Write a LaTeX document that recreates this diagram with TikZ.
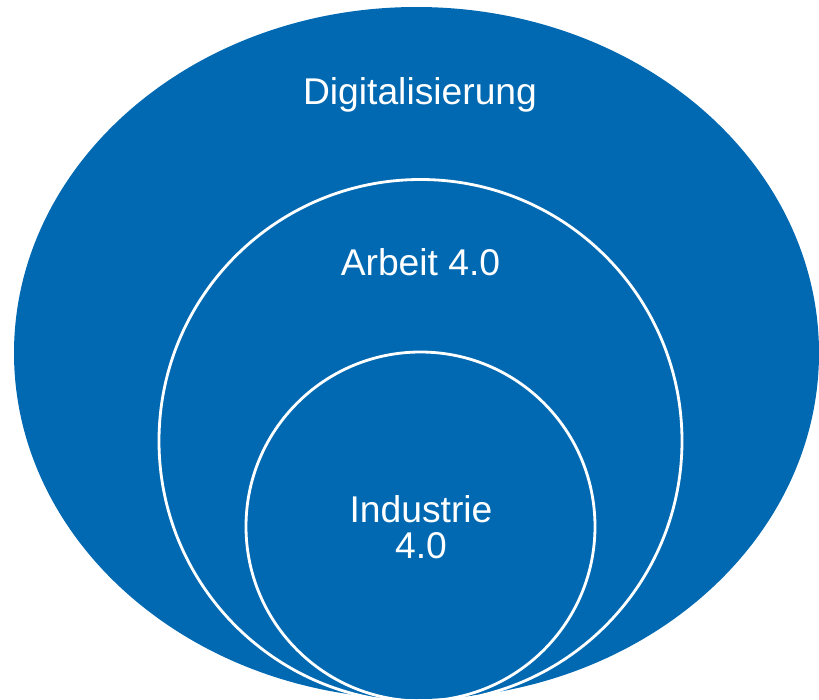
\documentclass[tikz,border=0pt]{standalone}
\usepackage{fontspec}
\setmainfont{Liberation Sans}
\usepackage{tikz}
\usetikzlibrary{calc}
\definecolor{digiblue}{RGB}{0,105,178}

\begin{document}
\begin{tikzpicture}[x=0.02cm,y=-0.02cm,
    ring/.style={draw=white, line width=1.6pt},
    label/.style={text=white, font=\fontsize{21.2}{22}\selectfont, align=center}]
  % Define coordinates
  \useasboundingbox (0,0) rectangle (819,700);
  \path
    (416.5,353) coordinate (E)
    (420.5,441) coordinate (M)
    (420.5,526.5) coordinate (K)
  ;
  % Draw ellipse and rings
  \fill[digiblue] (E) ellipse (402.5 and 346);
  \draw[ring] (M) circle (261.5);
  \draw[ring] (K) circle (174.5);
  \node[label] (digi) at (420,95) {Digitalisierung};
  \node[label] (arbeit) at (420.5,262) {Arbeit 4.0};
  \node[label, text depth=0pt] (industrie) at (421,527) {Industrie\\[-2pt]4.0};
\end{tikzpicture}
\end{document}
